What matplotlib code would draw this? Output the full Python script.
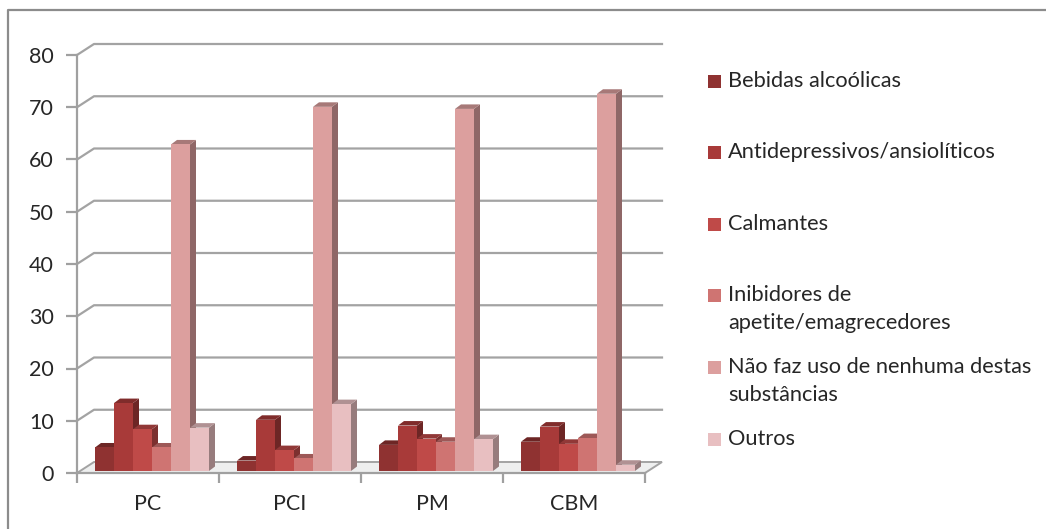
import matplotlib
matplotlib.use("Agg")
import matplotlib.pyplot as plt
from matplotlib.lines import Line2D
from matplotlib.patches import Polygon, Rectangle
from matplotlib.colors import to_rgb

W, H = 1046, 529
categories = ["PC", "PCI", "PM", "CBM"]
series_names = ["Bebidas alcoólicas", "Antidepressivos/ansiolíticos", "Calmantes",
                "Inibidores de\napetite/emagrecedores",
                "Não faz uso de nenhuma destas\nsubstâncias", "Outros"]
bebidas = [4.5, 2.0, 5.0, 5.6]
antidepressivos = [13.0, 9.8, 8.7, 8.5]
calmantes = [8.0, 4.0, 6.2, 5.2]
inibidores = [4.5, 2.4, 5.6, 6.3]
nenhuma = [62.5, 69.7, 69.3, 72.2]
outros = [8.3, 12.8, 6.1, 1.2]
all_series = [bebidas, antidepressivos, calmantes, inibidores, nenhuma, outros]
colors = ["#8f3231", "#a83a39", "#bf4a48", "#cf7472", "#dc9f9e", "#e8bfc1"]
legend_y = [81, 152, 224, 309, 381, 439]
yticks = [0, 10, 20, 30, 40, 50, 60, 70, 80]

plt.rcParams["font.family"] = ["Lato", "DejaVu Sans"]
fig = plt.figure(figsize=(W / 100, H / 100), dpi=100)
fig.patch.set_facecolor("white")

# frame: only the top and left edges fall inside the picture
fig.add_artist(Line2D([8 / W, 8 / W, 1], [0, 1 - 10 / H, 1 - 10 / H], transform=fig.transFigure,
                      color="#8c8c8c", lw=1.6))

L, R, T, B = 77, 645, 55, 473
ax = fig.add_axes([L / W, 1 - B / H, (R - L) / W, (B - T) / H])
ax.set_xlim(0, 4)
ax.set_ylim(0, 80)
ax.patch.set_alpha(0)
for s in ["top", "right"]:
    ax.spines[s].set_visible(False)
for s in ["left", "bottom"]:
    ax.spines[s].set_color("#a0a0a0")
    ax.spines[s].set_linewidth(1.6)

ux = 4 / (R - L)       # data units per pixel
uy = 80 / (B - T)
wall_x, wall_y = 17 * ux, 11 * uy
grid = "#a3a3a3"
# floor
ax.add_patch(Polygon([(0, 0), (4, 0), (4 + wall_x, wall_y), (wall_x, wall_y)],
                     closed=True, fc="#eeefef", ec=grid, lw=1.4, clip_on=False, zorder=1))
for v in yticks[1:]:
    ax.plot([0, wall_x, 4 + wall_x], [v, v + wall_y, v + wall_y], color=grid, lw=1.6,
            clip_on=False, zorder=1)

ax.set_xticks(range(5))
ax.set_xticklabels([])
for i, c in enumerate(categories):
    ax.text(i + 0.5, -6.0, c, ha="center", va="center", fontsize=15.5, color="#262626")
ax.set_yticks(yticks)
ax.tick_params(axis="y", length=8, width=1.6, color="#a0a0a0", labelsize=15.5,
               labelcolor="#262626", pad=8.5)
ax.tick_params(axis="x", length=7, width=1.6, color="#a0a0a0")


def shade(col, f):
    return tuple(min(1, c * f) for c in to_rgb(col))


bw = 19 * ux
start = 18 * ux
dx, dy = 6 * ux, 4.5 * uy
base = 2 * uy
order = 1
for g in range(len(categories)):
    for k, (vals, col) in enumerate(zip(all_series, colors)):
        x0 = g + start + k * bw
        x1 = x0 + bw
        top = vals[g] + base
        z = 5 + order * 0.01 + g
        ax.add_patch(Polygon([(x1, base), (x1 + dx, base + dy), (x1 + dx, top + dy), (x1, top)],
                             closed=True, fc=shade(col, 0.65), ec="none", clip_on=False, zorder=z))
        ax.add_patch(Polygon([(x0, top), (x1, top), (x1 + dx, top + dy), (x0 + dx, top + dy)],
                             closed=True, fc=shade(col, 0.76), ec="none", clip_on=False, zorder=z))
        ax.add_patch(Rectangle((x0, base), bw, vals[g], fc=col, ec="none", clip_on=False, zorder=z + 0.001))
        order += 1

# legend
for name, col, yy in zip(series_names, colors, legend_y):
    lines = name.count("\n") + 1
    sq = 13
    y_first = yy - (lines - 1) * 14
    fig.add_artist(Rectangle((708 / W, 1 - (y_first + sq / 2) / H), sq / W, sq / H,
                             transform=fig.transFigure, fc=col, ec="none"))
    fig.text(728 / W, 1 - yy / H, name, ha="left", va="center", fontsize=15.7,
             color="#262626", linespacing=1.5)

fig.savefig("out.png", dpi=100)
